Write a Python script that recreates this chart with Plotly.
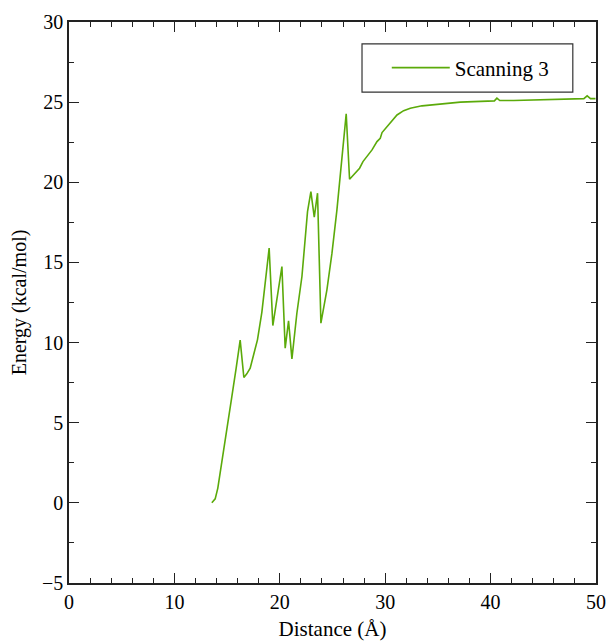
import plotly.graph_objects as go

distance = [13.55, 13.87, 14.12, 14.5, 14.98, 15.45, 15.86, 16.24, 16.59, 16.87, 17.19, 17.5,
            17.88, 18.3, 18.99, 19.34, 20.2, 20.51, 20.83, 21.15, 21.62, 22.1, 22.63, 22.95,
            23.27, 23.58, 23.9, 24.47, 24.95, 25.42, 25.74, 26.3, 26.62, 27.16, 27.57, 27.89,
            28.27, 28.75, 29.22, 29.53, 29.7, 30.17, 30.65, 31.12, 31.75, 32.38, 33.49, 35.23,
            37.13, 38.4, 40.36, 40.6, 40.87, 42.2, 44.73, 48.85, 49.16, 49.48, 49.95]
energy = [0.0, 0.25, 0.92, 2.48, 4.55, 6.63, 8.4, 10.15, 7.82, 8.05, 8.4, 9.13,
          10.17, 11.9, 15.89, 11.06, 14.74, 9.65, 11.35, 8.98, 11.83, 14.12, 18.17, 19.42,
          17.82, 19.32, 11.21, 13.29, 15.58, 18.28, 20.36, 24.27, 20.19, 20.57, 20.88, 21.29,
          21.6, 22.02, 22.54, 22.75, 23.1, 23.48, 23.89, 24.2, 24.47, 24.62, 24.77, 24.89,
          25.0, 25.03, 25.08, 25.25, 25.1, 25.1, 25.14, 25.22, 25.39, 25.22, 25.22]
series_name = "Scanning 3"
x_title = "Distance (Å)"
y_title = "Energy (kcal/mol)"

FONT = "Liberation Serif, Times New Roman, serif"

fig = go.Figure()
fig.add_trace(go.Scatter(x=distance, y=energy, mode="lines", name=series_name,
                         line=dict(color="#5BAA0A", width=1.6)))

axis_common = dict(showline=True, linecolor="#222222", linewidth=1.6, mirror="allticks",
                   ticks="inside", ticklen=10, tickwidth=1.3, tickcolor="#222222",
                   showgrid=False, zeroline=False, automargin=False,
                   tickfont=dict(family=FONT, size=20, color="black"))

fig.update_xaxes(range=[0, 50], dtick=10, tick0=0,
                 minor=dict(dtick=2, ticks="inside", ticklen=5, tickwidth=1.2, tickcolor="#222222"),
                 title=dict(text=x_title, font=dict(family=FONT, size=21, color="black"), standoff=10),
                 **axis_common)
fig.update_yaxes(range=[-5, 30], dtick=5, tick0=0,
                 minor=dict(dtick=2.5, ticks="inside", ticklen=5, tickwidth=1.2, tickcolor="#222222"),
                 title=dict(text=y_title, font=dict(family=FONT, size=20, color="black"), standoff=10),
                 **axis_common)

fig.update_layout(
    width=606, height=642,
    margin=dict(l=69, r=10, t=22, b=59),
    plot_bgcolor="white", paper_bgcolor="white",
    font=dict(family=FONT, size=20, color="black"),
    legend=dict(x=0.603, y=0.918, xanchor="left", yanchor="middle",
                borderwidth=0, bgcolor="rgba(0,0,0,0)",
                font=dict(family=FONT, size=21, color="black"),
                itemwidth=58),
    showlegend=True,
    shapes=[dict(type="rect", xref="paper", yref="paper",
                 x0=0.556, x1=0.956, y0=0.875, y1=0.961,
                 line=dict(color="#333333", width=1.2), fillcolor="white", layer="below")],
)

# remove the default 8px page margin so the figure fills the 606x642 window exactly
fig.write_html("out.html",
               config={"displayModeBar": False},
               post_script="document.body.style.margin='0';document.body.style.overflow='hidden';")
